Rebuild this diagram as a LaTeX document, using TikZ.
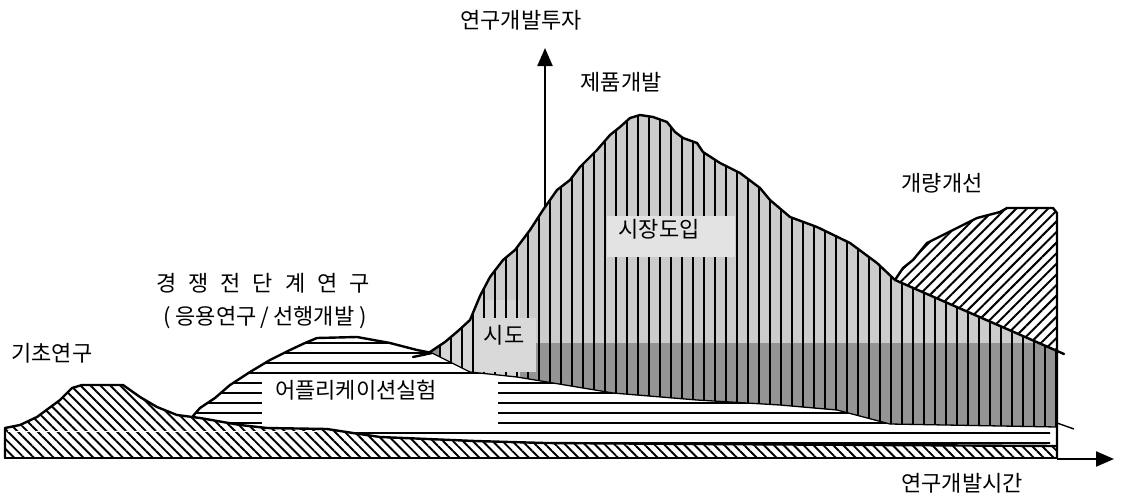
\documentclass[tikz,border=0pt]{standalone}
\usepackage{fontspec}
\setmainfont{Noto Sans CJK KR}
\usetikzlibrary{patterns.meta,arrows.meta}
\newcommand\kgap{\hspace{12pt}}
\begin{document}
\begin{tikzpicture}[x=1pt,y=-1pt,
  lbl/.style={font=\fontsize{22}{24}\selectfont, inner sep=1pt},
  outline/.style={line width=2.4pt, line join=round, line cap=round},
  thinline/.style={line width=1.3pt, line join=round},
  backhatch/.style={pattern={Lines[angle=-45,distance=7pt,line width=1.9pt]}},
  forehatch/.style={pattern={Lines[angle=45,distance=7.5pt,line width=2pt]}},
  hlines/.style={pattern={Lines[angle=0,distance=10pt,line width=2pt]}},
  vlines/.style={pattern={Lines[angle=90,distance=11pt,line width=2.8pt]}},
  axisarrow/.style={line width=2.2pt, -{Triangle[length=18pt,width=15pt]}}]
\useasboundingbox (0,0) rectangle (1122,493);

% ---------- application experiment region (horizontal lines) ----------
\path[hlines] (193,416) -- (200,408) -- (215,398) -- (230,385) -- (250,372) -- (270,360) -- (290,350) -- (305,343) -- (317,338) -- (357,337) -- (390,343) -- (417,350) -- (432,353)
  -- (470,372) -- (517,377) -- (613,393) -- (697,400) -- (780,405) -- (837,410) -- (890,424) -- (1050,427) -- (1050,446)
  -- (700,444) -- (545,443) -- (475,441) -- (380,437) -- (353,433) -- (327,429) -- (267,428) -- (240,425) -- (200,418) -- cycle;
\fill[white] (262,374) rectangle (498,427);
\draw[outline] (193,416) -- (200,408) -- (215,398) -- (230,385) -- (250,372) -- (270,360) -- (290,350) -- (305,343) -- (317,338) -- (357,337) -- (390,343) -- (417,350) -- (432,353) -- (413,357);

% ---------- basic research hill and base strip ----------
\path[backhatch] (5,458) -- (5,428) -- (20,425) -- (37,417) -- (60,400) -- (72,388) -- (82,385) -- (123,385) -- (140,397) -- (157,407) -- (177,415) -- (200,418) -- (240,425) -- (267,428) -- (327,429) -- (353,433) -- (380,437) -- (475,441) -- (545,443) -- (700,444) -- (1057,446) -- (1057,458) -- cycle;
\draw[white, line width=1.6pt] (8,431.5) -- (320,431.5);
\draw[outline] (5,458) -- (5,428) -- (20,425) -- (37,417) -- (60,400) -- (72,388) -- (82,385) -- (123,385) -- (140,397) -- (157,407) -- (177,415) -- (200,418) -- (240,425) -- (267,428) -- (327,429) -- (353,433) -- (380,437) -- (475,441) -- (545,443) -- (700,444) -- (1057,446);
\draw[outline] (5,458) -- (1057,458);

% ---------- main mountain (market introduction) ----------
\def\mountain{(430,352) -- (445,342) -- (458,331) -- (470,320) -- (480,296) -- (490,277) -- (503,260) -- (515,250) -- (530,230) -- (543,210) -- (557,190) -- (570,180) -- (580,167) -- (597,150) -- (610,135) -- (620,127) -- (630,118) -- (640,115) -- (653,117) -- (667,122) -- (675,132) -- (683,138) -- (697,143) -- (703,152) -- (720,163) -- (740,173) -- (760,188) -- (770,200) -- (790,217) -- (817,227) -- (850,243) -- (877,263) -- (895,280) -- (1057,351) -- (1057,427) -- (890,424) -- (837,410) -- (780,405) -- (697,400) -- (613,393) -- (517,377) -- (470,372) -- cycle}
\fill[black!20] \mountain;
\begin{scope}
  \clip \mountain;
  \fill[black!42] (420,343) rectangle (1060,430);
  \fill[black!16] (440,300) rectangle (520,380);
\end{scope}
\path[vlines] \mountain;
\fill[black!11] (607,216) rectangle (735,257);
\fill[black!15] (474,318) rectangle (536,372);
\draw[thinline] (430,352) -- (470,372) -- (517,377) -- (613,393) -- (697,400) -- (780,405) -- (837,410) -- (890,424) -- (1057,427);

% ---------- improvement region ----------
\def\improve{(895,280) -- (903,268) -- (913,260) -- (927,243) -- (947,233) -- (967,223) -- (977,218) -- (1000,212) -- (1007,208) -- (1053,208) -- (1057,213) -- (1057,351) -- cycle}
\fill[white] \improve;
\path[forehatch] \improve;

% ---------- outlines ----------
\draw[outline] (430,352) -- (445,342) -- (458,331) -- (470,320) -- (480,296) -- (490,277) -- (503,260) -- (515,250) -- (530,230) -- (543,210) -- (557,190) -- (570,180) -- (580,167) -- (597,150) -- (610,135) -- (620,127) -- (630,118) -- (640,115) -- (653,117) -- (667,122) -- (675,132) -- (683,138) -- (697,143) -- (703,152) -- (720,163) -- (740,173) -- (760,188) -- (770,200) -- (790,217) -- (817,227) -- (850,243) -- (877,263) -- (895,280) -- (1064,354);
\draw[outline] (895,280) -- (903,268) -- (913,260) -- (927,243) -- (947,233) -- (967,223) -- (977,218) -- (1000,212) -- (1007,208) -- (1053,208) -- (1057,213) -- (1057,458);
\draw[line width=1.4pt] (1057,423) -- (1074,429);

% ---------- axes ----------
\coordinate (yfoot) at (545,206);
\coordinate (ytip) at (545,48);
\coordinate (xfoot) at (1057,459);
\coordinate (xtip) at (1114,459);
\draw[axisarrow] (yfoot) -- (ytip);
\draw[axisarrow] (xfoot) -- (xtip);

% ---------- labels ----------
\node[lbl] (yaxis) at (521,20) {연구개발투자};
\node[lbl] (xaxis) at (962,483) {연구개발시간};
\node[lbl] (prod) at (621,82) {제품개발};
\node[lbl] (improvel) at (942,183) {개량개선};
\node[lbl] (market) at (659,229) {시장도입};
\node[lbl] (trial) at (504,335) {시도};
\node[lbl] (basic) at (52,353) {기초연구};
\node[lbl] (precomp) at (263,283) {경\kgap 쟁\kgap 전\kgap 단\kgap 계\kgap 연\kgap 구};
\node[lbl] (applied) at (265,318) {(\hspace{5pt}응용연구\hspace{4pt}/\hspace{4pt}선행개발\hspace{5pt})};
\node[lbl] (appexp) at (356,390) {어플리케이션실험};
\end{tikzpicture}
\end{document}
